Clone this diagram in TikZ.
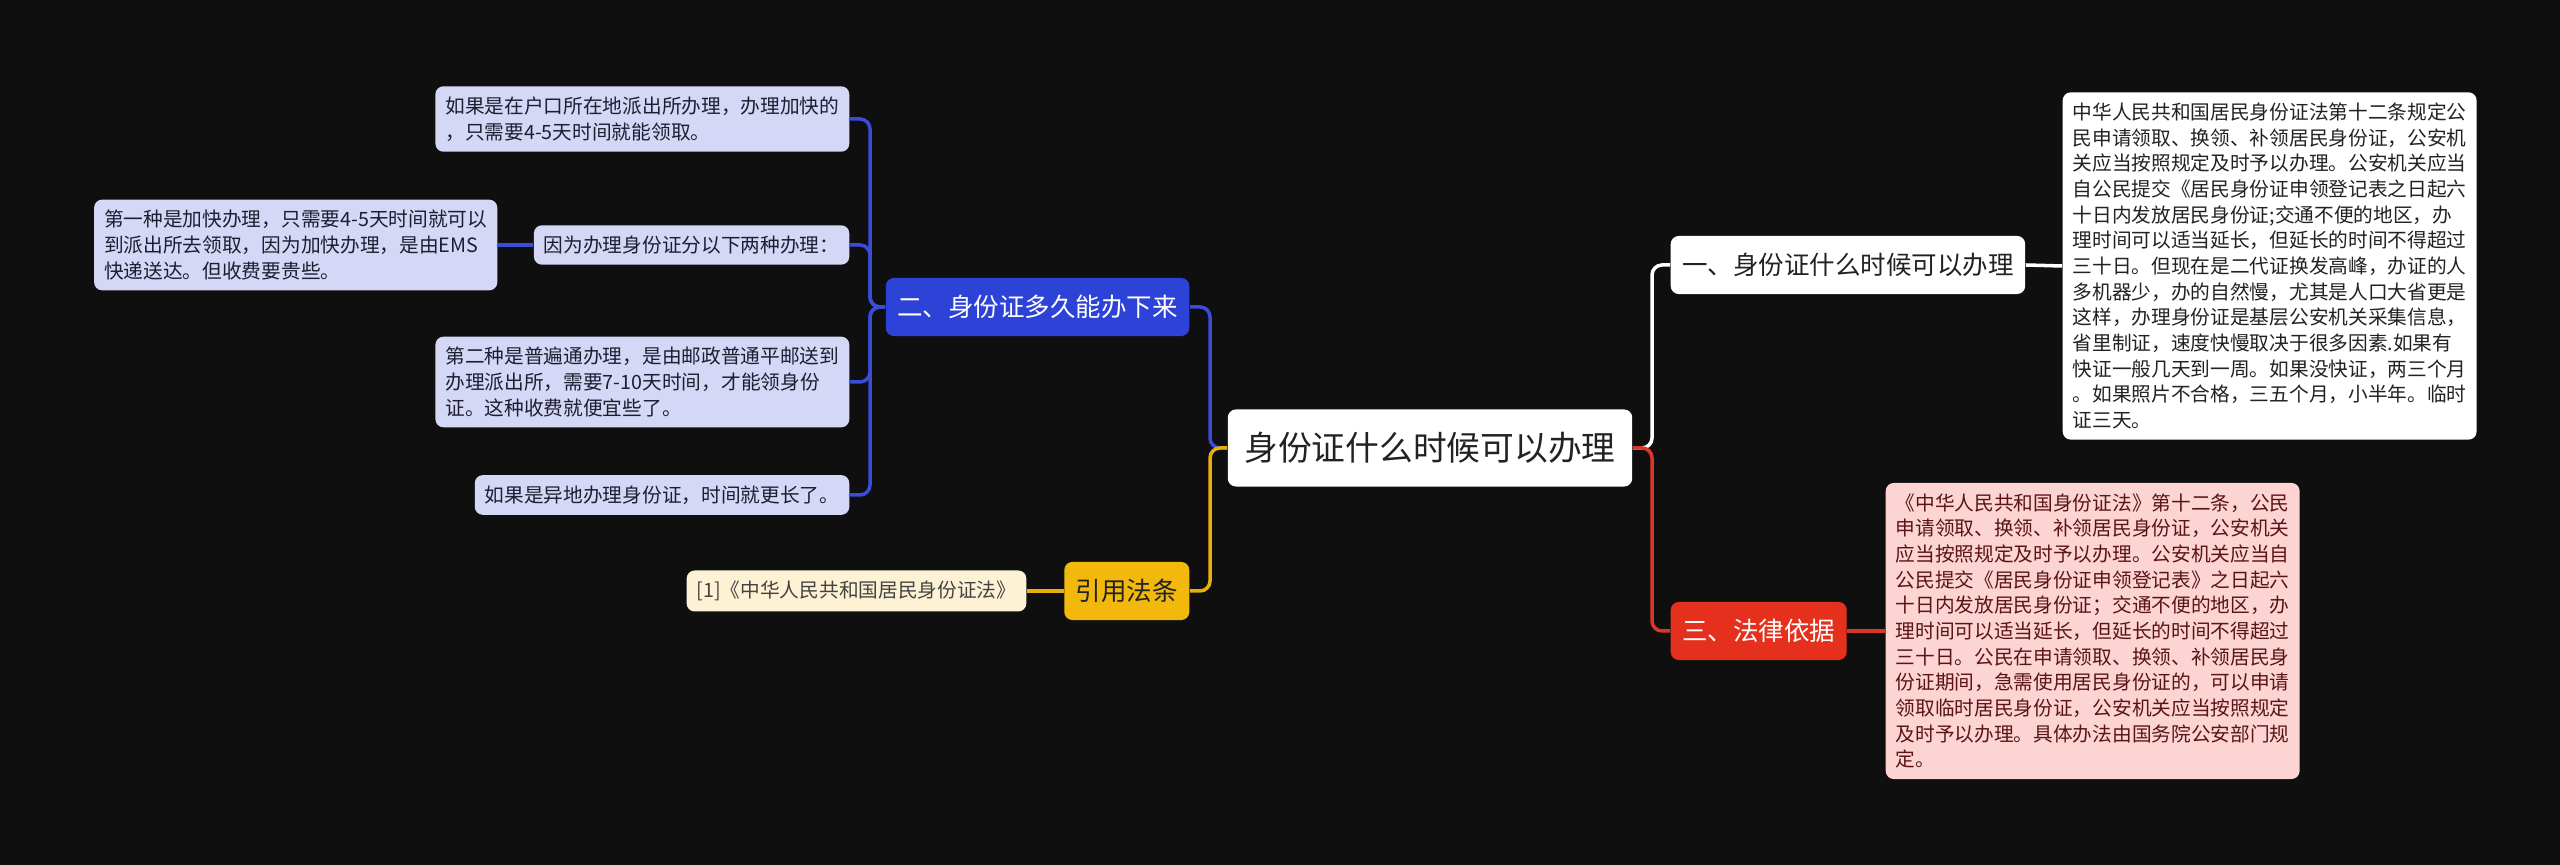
\documentclass[tikz,border=0pt]{standalone}
\usepackage{fontspec}
\setmainfont{Noto Sans CJK SC}
\usetikzlibrary{positioning}

\definecolor{bgdark}{HTML}{0F0F0F}
\definecolor{leafblue}{HTML}{D4D7F6}
\definecolor{leaftext}{HTML}{1E1E30}
\definecolor{nodeblue}{HTML}{2D42D6}
\definecolor{lineblue}{HTML}{3A4CD8}
\definecolor{nodegold}{HTML}{F2B90C}
\definecolor{linegold}{HTML}{E8B00A}
\definecolor{creamfill}{HTML}{FDF2D4}
\definecolor{nodered}{HTML}{E5301E}
\definecolor{linered}{HTML}{DC3628}
\definecolor{pinkfill}{HTML}{FCD4D2}
\definecolor{pinktext}{HTML}{5A1414}
\definecolor{darktext}{HTML}{222222}

\tikzset{
  leaf/.style={fill=leafblue, text=leaftext, rounded corners=0.08cm, align=left,
    font=\fontsize{5.6pt}{7.3pt}\selectfont, inner xsep=0.1cm, inner ysep=0.105cm},
  branch/.style={rounded corners=0.08cm, font=\fontsize{7.25pt}{8.5pt}\selectfont,
    inner xsep=0.115cm, inner ysep=0pt, minimum height=0.58cm},
  conn/.style={line width=1pt, rounded corners=0.1cm}
}

\begin{document}
\begin{tikzpicture}[x=0.01cm,y=-0.01cm]
  \fill[bgdark] (0,0) rectangle (2560,865);
  \useasboundingbox (0,0) rectangle (2560,865);

  % centre
  \node[fill=white, text=darktext, rounded corners=0.08cm, font=\fontsize{9.6pt}{11pt}\selectfont,
    inner xsep=0.165cm, inner ysep=0pt, minimum height=0.77cm] (root) at (1430,448) {身份证什么时候可以办理};

  % right side
  \node[branch, fill=white, text=darktext, anchor=west] (whenq) at (1670,265) {一、身份证什么时候可以办理};
  \node[branch, fill=nodered, text=white, anchor=west] (lawq) at (1670,631) {三、法律依据};
  \node[leaf, fill=white, text=darktext, anchor=west] (whenans) at (2062,266) {中华人民共和国居民身份证法第十二条规定公\\民申请领取、换领、补领居民身份证，公安机\\关应当按照规定及时予以办理。公安机关应当\\自公民提交《居民身份证申领登记表之日起六\\十日内发放居民身份证;交通不便的地区，办\\理时间可以适当延长，但延长的时间不得超过\\三十日。但现在是二代证换发高峰，办证的人\\多机器少，办的自然慢，尤其是人口大省更是\\这样，办理身份证是基层公安机关采集信息，\\省里制证，速度快慢取决于很多因素.如果有\\快证一般几天到一周。如果没快证，两三个月\\。如果照片不合格，三五个月，小半年。临时\\证三天。};
  \node[leaf, fill=pinkfill, text=pinktext, anchor=west] (lawans) at (1885,631) {《中华人民共和国身份证法》第十二条，公民\\申请领取、换领、补领居民身份证，公安机关\\应当按照规定及时予以办理。公安机关应当自\\公民提交《居民身份证申领登记表》之日起六\\十日内发放居民身份证；交通不便的地区，办\\理时间可以适当延长，但延长的时间不得超过\\三十日。公民在申请领取、换领、补领居民身\\份证期间，急需使用居民身份证的，可以申请\\领取临时居民身份证，公安机关应当按照规定\\及时予以办理。具体办法由国务院公安部门规\\定。};

  % left side
  \node[branch, fill=nodeblue, text=white, anchor=east] (howlong) at (1190,307) {二、身份证多久能办下来};
  \node[branch, fill=nodegold, text=darktext, anchor=east] (cite) at (1190,591) {引用法条};
  \node[leaf, fill=creamfill, text=darktext!85, anchor=east] (citeref) at (1027,591) {[1]《中华人民共和国居民身份证法》};

  \node[leaf, anchor=east] (local) at (850,119) {如果是在户口所在地派出所办理，办理加快的\\，只需要4-5天时间就能领取。};
  \node[leaf, anchor=east] (twoways) at (850,245) {因为办理身份证分以下两种办理：};
  \node[leaf, anchor=east] (fastway) at (498,245) {第一种是加快办理，只需要4-5天时间就可以\\到派出所去领取，因为加快办理，是由EMS\\快递送达。但收费要贵些。};
  \node[leaf, anchor=east] (slowway) at (850,382) {第二种是普遍通办理，是由邮政普通平邮送到\\办理派出所，需要7-10天时间，才能领身份\\证。这种收费就便宜些了。};
  \node[leaf, anchor=east] (elsewhere) at (850,495) {如果是异地办理身份证，时间就更长了。};

  \coordinate (jleft) at (1210,448);
  \coordinate (jright) at (1652,448);
  \coordinate (jblue) at (870,307);

  % connectors
  \draw[conn, lineblue] (root.west) -- (jleft) |- (howlong.east);
  \draw[conn, linegold] (root.west) -- (jleft) |- (cite.east);
  \draw[conn, white] (root.east) -- (jright) |- (whenq.west);
  \draw[conn, linered] (root.east) -- (jright) |- (lawq.west);
  \draw[conn, white] (whenq.east) -- (whenans.west);
  \draw[conn, linered] (lawq.east) -- (lawans.west);
  \draw[conn, linegold] (cite.west) -- (citeref.east);
  \draw[conn, lineblue] (howlong.west) -- (jblue) |- (local.east);
  \draw[conn, lineblue] (howlong.west) -- (jblue) |- (twoways.east);
  \draw[conn, lineblue] (howlong.west) -- (jblue) |- (slowway.east);
  \draw[conn, lineblue] (howlong.west) -- (jblue) |- (elsewhere.east);
  \draw[conn, lineblue] (twoways.west) -- (fastway.east);
\end{tikzpicture}
\end{document}
